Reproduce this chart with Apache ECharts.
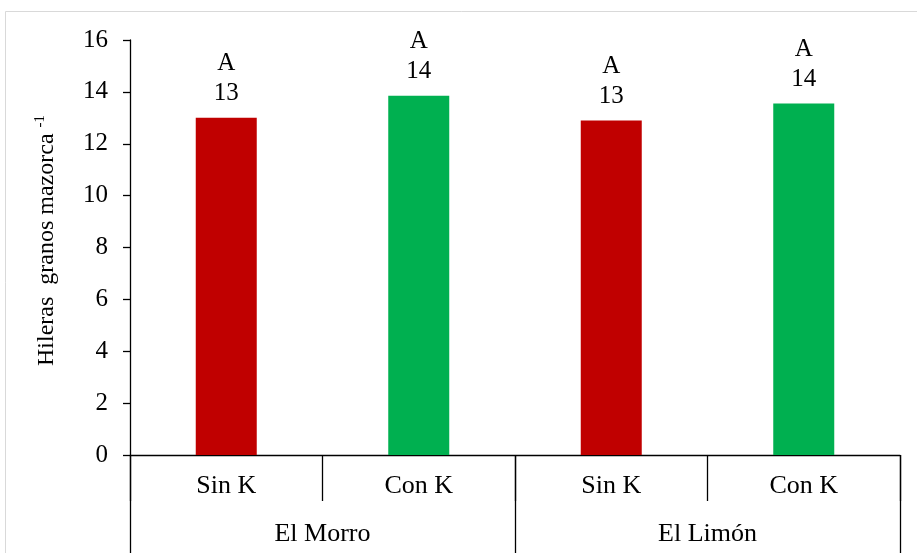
<!DOCTYPE html>
<html>
<head>
<meta charset="utf-8">
<script src="https://cdn.jsdelivr.net/npm/echarts@6/dist/echarts.min.js"></script>
<style>
  html, body { margin: 0; padding: 0; background: #fff; }
  #chart { width: 917px; height: 553px; }
</style>
</head>
<body>
<div id="chart"></div>
<script>
// Treatments (inner axis) and sites (outer axis)
const treatments = ['Sin K', 'Con K', 'Sin K', 'Con K'];
const sites = ['El Morro', 'El Limón'];
// Kernel rows per ear, one value per treatment
const rowValues = [13.0, 13.85, 12.9, 13.55];
// Significance letters shown above each bar
const letters = ['A', 'A', 'A', 'A'];
const barColors = ['#C00000', '#00B050', '#C00000', '#00B050'];
const yTicks = { min: 0, max: 16, interval: 2 };

const FONT = '"Liberation Serif", "Times New Roman", serif';
const chart = echarts.init(document.getElementById('chart'));

chart.setOption({
  animation: false,
  backgroundColor: '#fff',
  graphic: [{
    type: 'rect',
    shape: { x: 5.5, y: 11.5, width: 930, height: 560 },
    style: { fill: 'none', stroke: '#d9d9d9', lineWidth: 1 },
    silent: true, z: -10
  }],
  grid: { left: 130, right: 17, top: 40, bottom: 98 },
  xAxis: [{
    type: 'category',
    data: treatments,
    position: 'bottom',
    axisLine: { lineStyle: { color: '#000', width: 1.3 } },
    axisTick: { show: true, interval: 0, length: 46, lineStyle: { color: '#000', width: 1.3 } },
    axisLabel: { interval: 0, color: '#000', fontFamily: FONT, fontSize: 26, margin: 18 }
  }, {
    type: 'category',
    data: sites,
    position: 'bottom',
    axisLine: { show: false },
    axisTick: { show: true, interval: 0, length: 100, lineStyle: { color: '#000', width: 1.3 } },
    axisLabel: { interval: 0, color: '#000', fontFamily: FONT, fontSize: 26, margin: 66 }
  }],
  yAxis: {
    type: 'value',
    min: yTicks.min, max: yTicks.max, interval: yTicks.interval,
    splitLine: { show: false },
    axisLine: { show: true, lineStyle: { color: '#000', width: 1.3 } },
    axisTick: { show: true, length: 7, lineStyle: { color: '#000', width: 1.3 } },
    axisLabel: { color: '#000', fontFamily: FONT, fontSize: 25, margin: 22 },
    name: '{t|Hileras  granos mazorca }{s|-1}',
    nameLocation: 'middle',
    nameRotate: 90,
    nameGap: 70,
    nameTextStyle: {
      padding: [0, 0, 0, 14],
      rich: {
        t: { fontFamily: FONT, fontSize: 24, color: '#000' },
        s: { fontFamily: FONT, fontSize: 15, color: '#000', verticalAlign: 'top', padding: [0, 0, 12, 0] }
      }
    }
  },
  series: [{
    type: 'bar',
    xAxisIndex: 0,
    barWidth: 61,
    data: rowValues.map((v, i) => ({ value: v, itemStyle: { color: barColors[i] } })),
    label: {
      show: true,
      position: 'top',
      distance: 9,
      color: '#000',
      fontFamily: FONT,
      fontSize: 25,
      lineHeight: 30,
      align: 'center',
      formatter: p => letters[p.dataIndex] + '\n' + Math.round(p.value)
    }
  }]
});
</script>
</body>
</html>
